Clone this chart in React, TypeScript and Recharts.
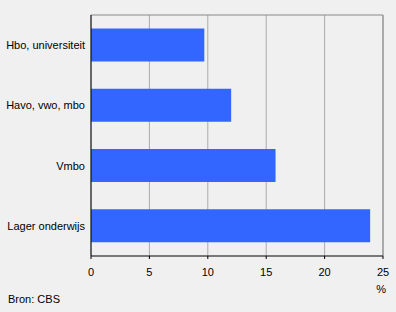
import { BarChart, Bar, XAxis, YAxis, CartesianGrid, ReferenceLine } from "recharts";

const categories = ["Hbo, universiteit", "Havo, vwo, mbo", "Vmbo", "Lager onderwijs"];
const values = [9.7, 12.0, 15.8, 23.9];
const xTicks = [0, 5, 10, 15, 20, 25];

const data = categories.map((name, i) => ({ name, value: values[i] }));

const font = "'Liberation Sans', Arial, sans-serif";

function CategoryTick(props: any) {
  const { x, y, payload } = props;
  return (
    <text x={x} y={y} dy="0.355em" textAnchor="end" fontSize={11} fontFamily={font} fill="#000">
      {payload.value}
    </text>
  );
}

export default function App() {
  return (
    <div
      style={{
        position: "absolute",
        left: 0,
        top: 0,
        width: 396,
        height: 312,
        background: "#f0f0f0",
        fontFamily: font,
      }}
    >
      <BarChart
        width={396}
        height={312}
        data={data}
        layout="vertical"
        margin={{ top: 15, right: 13, bottom: 36, left: 0 }}
        barCategoryGap="22.5%"
      >
        <CartesianGrid horizontal={false} stroke="#aaaaaa" strokeWidth={1} />
        <ReferenceLine x={25} stroke="#888888" strokeWidth={1} />
        <ReferenceLine y={categories[0]} position="start" stroke="#888888" strokeWidth={1} />
        <XAxis
          type="number"
          domain={[0, 25]}
          ticks={xTicks}
          height={20}
          axisLine={{ stroke: "#000" }}
          tickLine={{ stroke: "#000" }}
          tickSize={3}
          tickMargin={9}
          tick={{ fill: "#000", fontSize: 11, fontFamily: font }}
        />
        <YAxis
          type="category"
          dataKey="name"
          width={91}
          axisLine={{ stroke: "#000" }}
          tickLine={false}
          tickSize={0}
          tickMargin={6}
          tick={<CategoryTick />}
        />
        <Bar dataKey="value" fill="#3366ff" isAnimationActive={false} />
      </BarChart>
      <svg
        width={396}
        height={312}
        style={{ position: "absolute", left: 0, top: 0, pointerEvents: "none" }}
      >
        <text x={386} y={293} textAnchor="end" fontSize={11} fontFamily={font} fill="#000">
          %
        </text>
        <text x={8} y={303} fontSize={11} fontFamily={font} fill="#000">
          Bron: CBS
        </text>
      </svg>
    </div>
  );
}
